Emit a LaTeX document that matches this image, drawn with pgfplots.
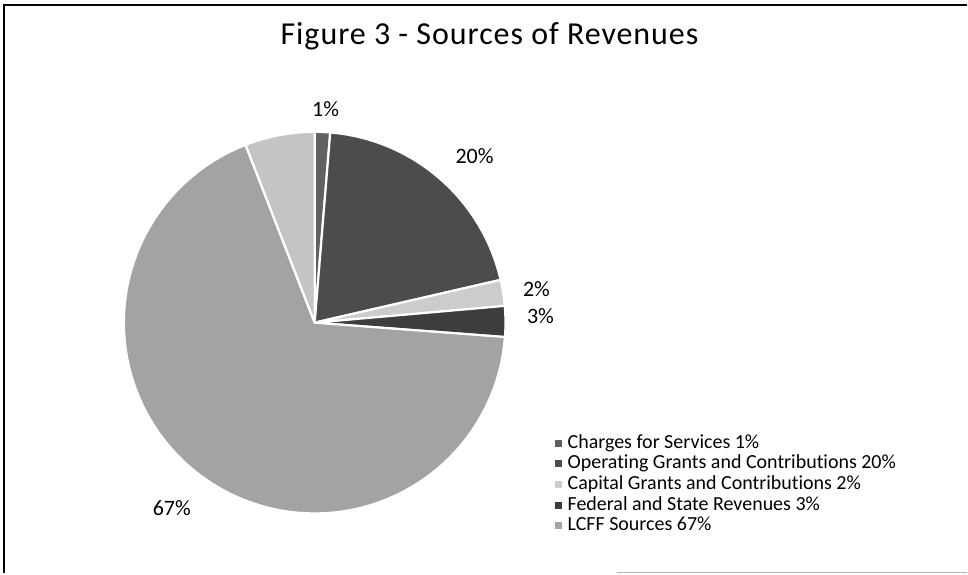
\documentclass[border=0pt]{standalone}
\usepackage{fontspec}
\setmainfont{Carlito}[Ligatures=NoCommon]
\usepackage{pgfplots}
\pgfplotsset{compat=1.18}
\definecolor{cChg}{gray}{0.38}
\definecolor{cOp}{gray}{0.30}
\definecolor{cCap}{gray}{0.80}
\definecolor{cFed}{gray}{0.24}
\definecolor{cLCFF}{gray}{0.64}
\definecolor{cOth}{gray}{0.77}
\begin{document}
\begin{tikzpicture}
\begin{axis}[
  width=968pt, height=574pt, scale only axis,
  xmin=0, xmax=968, ymin=0, ymax=574,
  hide axis, clip=false,
  legend cell align=left,
  legend style={at={(axis cs:555,139.5)}, anchor=north west, draw=none, fill=none,
    inner sep=0pt, font=\fontsize{20}{24}\selectfont, row sep=2.7pt,
    nodes={inner xsep=6pt, inner ysep=0pt, text height=14pt, text depth=4pt}},
  legend image code/.code={\fill[#1,draw=none] (0pt,-3.5pt) rectangle (7pt,3.5pt);},
]
% bounding box and frame
\addplot[draw=none, forget plot] coordinates {(0,0) (968,574)};
\addplot[black, line width=2pt, forget plot] coordinates {(4,0) (4,569) (968,569)};
\addplot[gray!60, line width=1.2pt, forget plot] coordinates {(618,1) (968,1)};
% pie slices (percent values)
\def\cx{315}\def\cy{251}\def\R{191}
\xdef\cum{0}
\foreach \v/\c/\f in {1.3/cChg/, 20.1/cOp/, 2.2/cCap/, 2.6/cFed/, 67.9/cLCFF/, 5.9/cOth/forget plot} {
  \pgfmathsetmacro\a{\cum*3.6}
  \pgfmathsetmacro\newcum{\cum+\v}
  \pgfmathsetmacro\b{\newcum*3.6}
  \xdef\cum{\newcum}
  \edef\temp{\noexpand\addplot[fill=\c, draw=white, line width=2.2pt, line join=round, domain=\a:\b, samples=90, \f]
    ({\cx+\R*sin(x)},{\cy+\R*cos(x)}) -- (axis cs:\cx,\cy) -- cycle;}
  \temp
}
\legend{Charges for Services 1\%, Operating Grants and Contributions 20\%, Capital Grants and Contributions 2\%, Federal and State Revenues 3\%, LCFF Sources 67\%}
% title and labels
\node[font=\fontsize{32}{36}\selectfont\addfontfeatures{LetterSpace=3}] at (axis cs:490,538) {Figure 3 - Sources of Revenues};
\begin{scope}[every node/.style={font=\fontsize{22}{26}\selectfont}]
\node at (axis cs:326,465) {1\%};
\node at (axis cs:475,418) {20\%};
\node at (axis cs:537,285) {2\%};
\node at (axis cs:541,258) {3\%};
\node at (axis cs:172,65) {67\%};
\end{scope}
\end{axis}
\end{tikzpicture}
\end{document}
